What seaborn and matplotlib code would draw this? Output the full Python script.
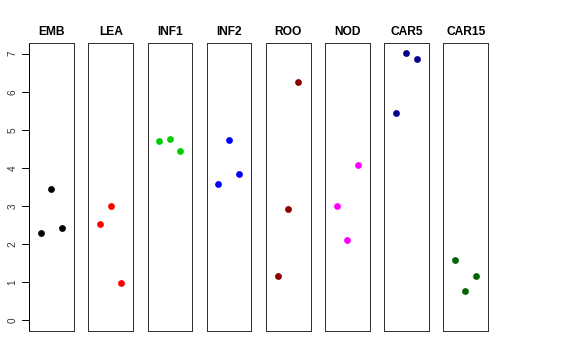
import matplotlib
matplotlib.use("Agg")
import matplotlib.pyplot as plt
import matplotlib.transforms as mtransforms
from matplotlib.lines import Line2D
import seaborn as sns
import pandas as pd

tissues = ["EMB", "LEA", "INF1", "INF2", "ROO", "NOD", "CAR5", "CAR15"]
colors = ["#000000", "#FF0000", "#00CD00", "#0000FF", "#8B0000", "#FF00FF", "#00008B", "#006400"]
replicate = [1, 2, 3]
EMB = [2.29, 3.44, 2.42]
LEA = [2.54, 3.00, 0.99]
INF1 = [4.71, 4.76, 4.45]
INF2 = [3.59, 4.74, 3.85]
ROO = [1.17, 2.93, 6.26]
NOD = [3.00, 2.10, 4.09]
CAR5 = [5.45, 7.02, 6.87]
CAR15 = [1.59, 0.77, 1.17]
values = [EMB, LEA, INF1, INF2, ROO, NOD, CAR5, CAR15]
yticks = [0, 1, 2, 3, 4, 5, 6, 7]

sns.set_style("ticks", {"text.color": "black", "ytick.color": "black",
                        "axes.labelcolor": "black", "axes.edgecolor": "#333333"})
plt.rcParams['font.family'] = ['Liberation Sans', 'DejaVu Sans']

fig = plt.figure(figsize=(8, 5), dpi=72)
left0 = 29.3 / 576
pitch = 59.15 / 576
width = 44.6 / 576
bottom = 1 - 331 / 360
height = (331 - 43) / 360

for i, (name, col, vals) in enumerate(zip(tissues, colors, values)):
    ax = fig.add_axes([left0 + i * pitch, bottom, width, height])
    df = pd.DataFrame({"rep": replicate, "val": vals})
    sns.scatterplot(data=df, x="rep", y="val", color=col, s=46, linewidth=0, ax=ax)
    ax.set_xlim(-0.13, 4.16)
    ax.set_ylim(-0.28, 7.28)
    ax.set_xlabel("")
    ax.set_ylabel("")
    ax.set_xticks([])
    ax.set_title(name, fontsize=12, fontweight="bold", pad=8, color="black")
    for sp in ax.spines.values():
        sp.set_visible(True)
        sp.set_color("#333333")
        sp.set_linewidth(1.0)
    if i == 0:
        ax.set_yticks(yticks)
        ax.set_yticklabels([str(t) for t in yticks], rotation=90, va="center",
                           fontsize=10, color="#333333")
        ax.tick_params(axis="y", which="major", left=True,
                       length=7, width=1.0, color="black", pad=5)
        ax.spines["left"].set_color("#000000")
        trans = mtransforms.blended_transform_factory(fig.transFigure, ax.transData)
        for t in yticks:
            fig.add_artist(Line2D([left0 - 7 / 576, left0], [t, t], transform=trans,
                                  color="black", linewidth=1.0, zorder=20,
                                  clip_on=False))
    else:
        ax.set_yticks([])

fig.savefig("out.png", dpi=72)
